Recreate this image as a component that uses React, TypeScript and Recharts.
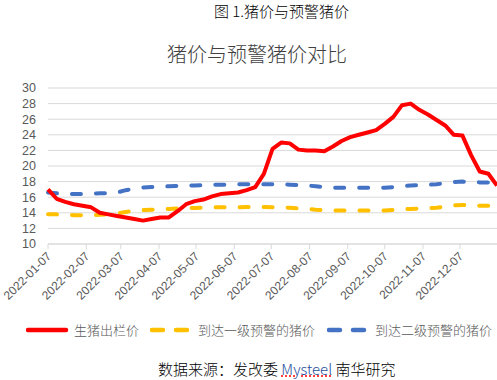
import { CartesianGrid, Line, LineChart, XAxis, YAxis } from 'recharts';

// weekly observation dates
const weeks = [
  '2022-01-07', '2022-01-14', '2022-01-21', '2022-01-28', '2022-02-04', '2022-02-11', '2022-02-18', '2022-02-25',
  '2022-03-04', '2022-03-11', '2022-03-18', '2022-03-25', '2022-04-01', '2022-04-08', '2022-04-15', '2022-04-22',
  '2022-04-29', '2022-05-06', '2022-05-13', '2022-05-20', '2022-05-27', '2022-06-03', '2022-06-10', '2022-06-17',
  '2022-06-24', '2022-07-01', '2022-07-08', '2022-07-15', '2022-07-22', '2022-07-29', '2022-08-05', '2022-08-12',
  '2022-08-19', '2022-08-26', '2022-09-02', '2022-09-09', '2022-09-16', '2022-09-23', '2022-09-30', '2022-10-07',
  '2022-10-14', '2022-10-21', '2022-10-28', '2022-11-04', '2022-11-11', '2022-11-18', '2022-11-25', '2022-12-02',
  '2022-12-09', '2022-12-16', '2022-12-23', '2022-12-30', '2023-01-06',
];

// 生猪出栏价
const hogPrice = [
  17.0, 15.8, 15.4, 15.1, 14.9, 14.7, 14.0, 13.8, 13.6, 13.4, 13.2, 13.0, 13.2, 13.4, 13.4, 14.2,
  15.1, 15.5, 15.7, 16.1, 16.4, 16.5, 16.6, 16.9, 17.3, 19.0, 22.2, 23.0, 22.9, 22.1, 22.0, 22.0,
  21.9, 22.5, 23.2, 23.7, 24.0, 24.3, 24.6, 25.4, 26.3, 27.8, 28.0, 27.2, 26.6, 25.9, 25.2, 24.0,
  23.9, 21.4, 19.3, 19.0, 17.5,
];

// 到达一级预警的猪价
const level1 = [
  13.8, 13.8, 13.75, 13.7, 13.7, 13.7, 13.75, 13.8, 13.9, 14.1, 14.25, 14.35, 14.4, 14.45, 14.5, 14.55,
  14.6, 14.6, 14.65, 14.7, 14.7, 14.7, 14.7, 14.75, 14.75, 14.75, 14.7, 14.7, 14.65, 14.55, 14.5, 14.4,
  14.35, 14.3, 14.3, 14.3, 14.3, 14.3, 14.3, 14.3, 14.35, 14.45, 14.5, 14.55, 14.6, 14.65, 14.8, 14.95,
  15.0, 14.95, 14.9, 14.9, 14.9,
];

// 到达二级预警的猪价
const level2 = [
  16.6, 16.5, 16.45, 16.4, 16.4, 16.45, 16.5, 16.5, 16.6, 16.9, 17.1, 17.25, 17.3, 17.35, 17.4, 17.45,
  17.5, 17.5, 17.55, 17.6, 17.6, 17.6, 17.65, 17.65, 17.65, 17.65, 17.65, 17.65, 17.6, 17.55, 17.5, 17.4,
  17.3, 17.2, 17.2, 17.2, 17.2, 17.2, 17.2, 17.2, 17.3, 17.4, 17.5, 17.55, 17.6, 17.65, 17.8, 17.95,
  18.0, 17.95, 17.9, 17.9, 17.9,
];

const monthTicks = [
  '2022-01-07', '2022-02-07', '2022-03-07', '2022-04-07', '2022-05-07', '2022-06-07',
  '2022-07-07', '2022-08-07', '2022-09-07', '2022-10-07', '2022-11-07', '2022-12-07',
];

const yTicks = [10, 12, 14, 16, 18, 20, 22, 24, 26, 28, 30];

const DAY = 86400000;
const origin = Date.parse(weeks[0]);
const toDay = (d: string) => Math.round((Date.parse(d) - origin) / DAY);

const data = weeks.map((w, i) => ({
  day: toDay(w),
  hog: hogPrice[i],
  l1: level1[i],
  l2: level2[i],
}));

const tickDays = monthTicks.map(toDay);
const labelOf: Record<number, string> = {};
monthTicks.forEach((t) => (labelOf[toDay(t)] = t));

const RED = '#ff0000';
const YELLOW = '#ffc000';
const BLUE = '#4472c4';
const TEXT = '#595959';
const CJK = '"Noto Sans CJK SC", "Noto Sans", sans-serif';
const NUM = '"Liberation Sans", Arial, sans-serif';

const DateTick = ({ x, y, payload }: any) => (
  <g transform={`translate(${x + 4},${y + 6})`}>
    <text x={0} y={0} textAnchor="end" transform="rotate(-45)" fill={TEXT} fontSize={12} fontFamily={NUM}>
      {labelOf[payload.value]}
    </text>
  </g>
);

const LegendItem = ({ color, dash, label, width }: { color: string; dash?: string; label: string; width: number }) => (
  <div style={{ display: 'flex', alignItems: 'center', width }}>
    <svg width={44} height={8} style={{ marginRight: 4 }}>
      <line
        x1={2}
        y1={4}
        x2={40}
        y2={4}
        stroke={color}
        strokeWidth={4.5}
        strokeDasharray={dash}
        strokeLinecap="round"
      />
    </svg>
    <span>{label}</span>
  </div>
);

export default function App() {
  return (
    <div style={{ position: 'absolute', left: 0, top: 0, width: 497, height: 380, background: '#fff', overflow: 'hidden' }}>
      <div style={{ position: 'absolute', top: 1, left: 0, width: 497, textAlign: 'center', paddingLeft: 66, boxSizing: 'border-box', fontFamily: CJK, fontWeight: 300, fontSize: 15, color: '#000', lineHeight: '20px' }}>
        图 1.猪价与预警猪价
      </div>
      <div style={{ position: 'absolute', top: 40, left: 0, width: 514, textAlign: 'center', fontFamily: CJK, fontWeight: 300, fontSize: 20, color: '#404040', lineHeight: '28px' }}>
        猪价与预警猪价对比
      </div>

      <div style={{ position: 'absolute', top: 0, left: 0 }}>
        <LineChart width={497} height={316} data={data} margin={{ top: 88, right: 0, left: 0, bottom: 16 }}>
          <CartesianGrid vertical={false} stroke="#d9d9d9" strokeWidth={1} />
          <XAxis
            dataKey="day"
            type="number"
            domain={[0, 364]}
            ticks={tickDays}
            interval={0}
            height={56}
            tick={<DateTick />}
            tickSize={5}
            tickMargin={2}
            axisLine={{ stroke: '#d9d9d9' }}
            tickLine={{ stroke: '#d9d9d9' }}
          />
          <YAxis
            domain={[10, 30]}
            ticks={yTicks}
            interval={0}
            width={48}
            axisLine={false}
            tickLine={false}
            tickSize={6}
            tickMargin={6}
            tick={{ fill: TEXT, fontSize: 12.5, fontFamily: NUM }}
          />
          <Line type="linear" dataKey="l1" stroke={YELLOW} strokeWidth={4} strokeDasharray="9 15" strokeLinecap="round" dot={false} isAnimationActive={false} />
          <Line type="linear" dataKey="l2" stroke={BLUE} strokeWidth={4} strokeDasharray="9 15" strokeLinecap="round" dot={false} isAnimationActive={false} />
          <Line type="linear" dataKey="hog" stroke={RED} strokeWidth={4} strokeLinejoin="round" dot={false} isAnimationActive={false} />
        </LineChart>
      </div>

      <div style={{ position: 'absolute', top: 321, left: 26, display: 'flex', fontFamily: CJK, fontWeight: 300, fontSize: 13, color: TEXT, lineHeight: '18px' }}>
        <LegendItem color={RED} label="生猪出栏价" width={124} />
        <LegendItem color={YELLOW} dash="11 13" label="到达一级预警的猪价" width={177} />
        <LegendItem color={BLUE} dash="11 13" label="到达二级预警的猪价" width={170} />
      </div>

      <div style={{ position: 'absolute', top: 359, left: 158, fontFamily: CJK, fontWeight: 300, fontSize: 15, color: '#000', lineHeight: '20px', whiteSpace: 'nowrap' }}>
        数据来源：发改委{' '}
        <span style={{ color: '#1f4e9c', textDecoration: 'underline dotted #ff0000' }}>Mysteel</span> 南华研究
      </div>
    </div>
  );
}
